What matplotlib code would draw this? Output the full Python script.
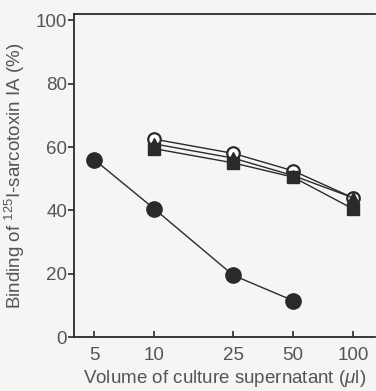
import matplotlib
matplotlib.use("Agg")
import matplotlib.pyplot as plt
from matplotlib.ticker import FixedLocator, NullLocator

plt.rcParams['font.family'] = ['Liberation Sans', 'DejaVu Sans']
plt.rcParams['mathtext.fontset'] = 'custom'
plt.rcParams['mathtext.rm'] = 'Liberation Sans'
plt.rcParams['mathtext.it'] = 'Liberation Sans:italic'

volumes_filled = [5, 10, 25, 50]
filled_circle = [56, 40.5, 19.5, 11.5]
volumes = [10, 25, 50, 100]
open_circle = [62.5, 58, 52.5, 44]
triangle = [61, 56.5, 51, 44]
square = [59.5, 55, 50.5, 40.5]
xticks = [5, 10, 25, 50, 100]
yticks = [0, 20, 40, 60, 80, 100]

ink = '#2a2a2a'
txt = '#555555'
bg = '#f5f5f3'

fig = plt.figure(figsize=(3.76, 3.91), dpi=100, facecolor=bg)
ax = fig.add_axes([0.197, 0.138, 0.80, 0.826], facecolor=bg)

ax.plot(volumes, open_circle, '-', color=ink, lw=1.0, marker='o', ms=9,
        mfc='white', mec=ink, mew=1.6, zorder=3)
ax.plot(volumes, triangle, '-', color=ink, lw=1.0, marker='^', ms=9,
        mfc=ink, mec=ink, zorder=4)
ax.plot(volumes, square, '-', color=ink, lw=1.0, marker='s', ms=9,
        mfc=ink, mec=ink, zorder=5)
ax.plot(volumes_filled, filled_circle, '-', color=ink, lw=1.0, marker='o', ms=11,
        mfc=ink, mec=ink, zorder=3)

ax.set_xscale('log')
ax.set_xlim(3.95, 129)
ax.set_ylim(0, 102)
ax.xaxis.set_major_locator(FixedLocator(xticks))
ax.xaxis.set_minor_locator(NullLocator())
ax.set_xticklabels([str(v) for v in xticks])
ax.set_yticks(yticks)

for s in ax.spines.values():
    s.set_color(ink)
    s.set_linewidth(1.3)
ax.spines['right'].set_visible(False)

fs = 13.5
ax.tick_params(axis='x', direction='in', length=4, width=1.2, color=ink,
               labelsize=fs, labelcolor=txt, pad=7)
ax.tick_params(axis='y', direction='out', length=4, width=1.2, color=ink,
               labelsize=fs, labelcolor=txt, pad=1)

ax.set_xlabel(r'Volume of culture supernatant ($\mathit{\mu}$l)', fontsize=fs,
              color=txt, labelpad=3)
ax.set_ylabel(r'Binding of $^{125}$I-sarcotoxin IA (%)', fontsize=fs,
              color=txt, labelpad=6)

fig.savefig('out.png', dpi=100, facecolor=bg)
